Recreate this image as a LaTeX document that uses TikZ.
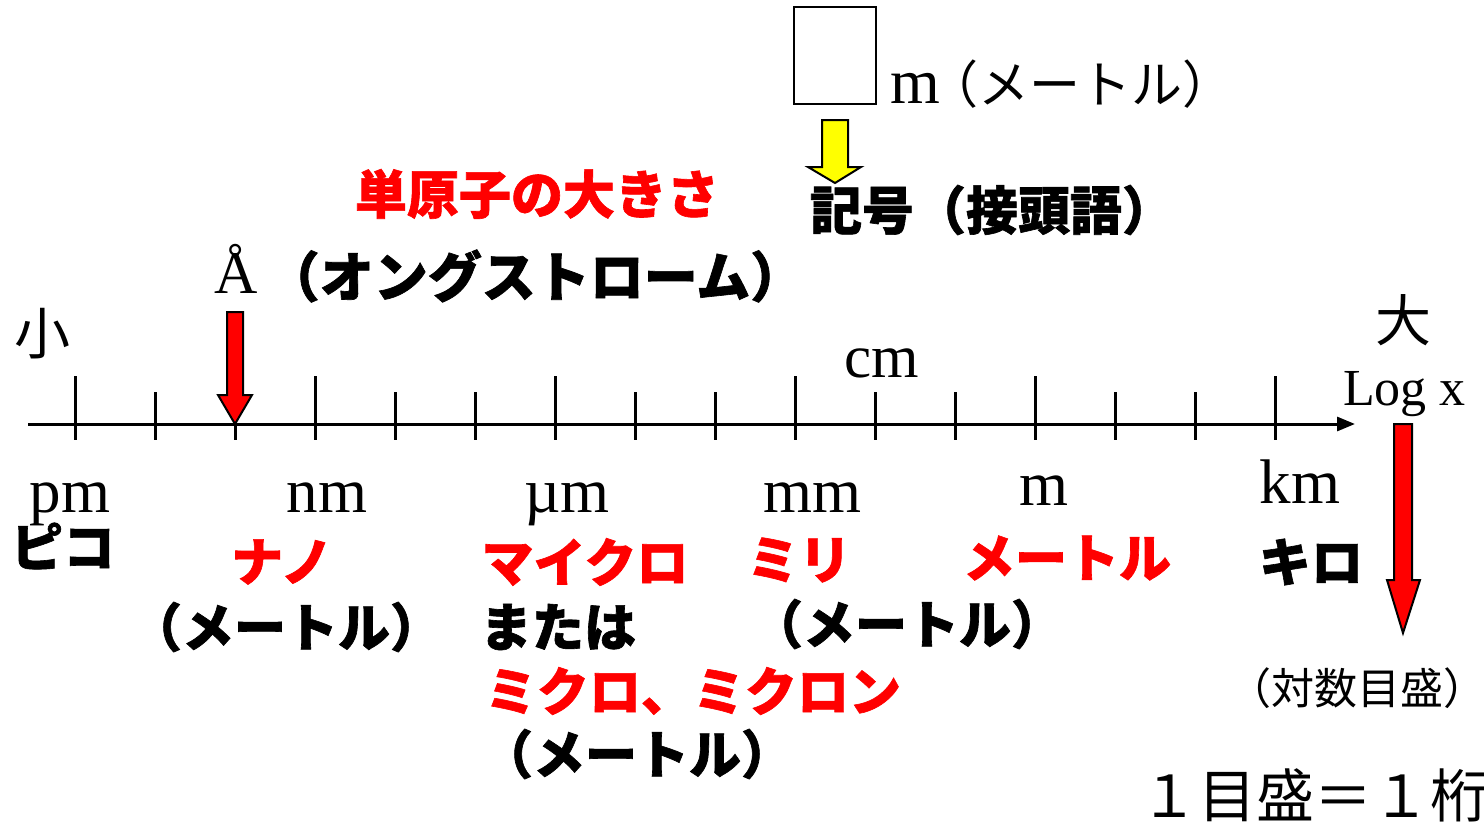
\documentclass[tikz,border=0pt]{standalone}
\usepackage{fontspec}
\usetikzlibrary{arrows.meta}
\setmainfont{Liberation Serif}
\newfontfamily\jp{Noto Sans CJK JP}
\newfontfamily\jpk{Noto Sans CJK JP}[BoldFeatures={FakeBold=1.2}]
\definecolor{pred}{RGB}{255,0,0}
\definecolor{pyel}{RGB}{255,255,0}
\tikzset{
  lat/.style={inner sep=0pt, font=\fontsize{63}{70}\selectfont},
  jpr/.style={inner sep=0pt, font=\jp\fontsize{#1}{#1}\selectfont},
  jpb/.style={inner sep=0pt, font=\jpk\bfseries\fontsize{52}{56}\selectfont},
  redlab/.style={jpb, text=pred},
  blklab/.style={jpb, text=black},
  axisline/.style={line width=3pt},
  tickmark/.style={line width=3pt},
  fatarrow/.style={draw=black, line width=2pt, line join=miter},
}
\begin{document}
\begin{tikzpicture}[x=1pt,y=-1pt]
\useasboundingbox (0,0) rectangle (1484,825);
% axis
\coordinate (axl) at (28,424);
\coordinate (axr) at (1355,424);
\draw[axisline,-{Triangle[length=18pt,width=14pt]}] (axl) -- (axr);
% ticks
\foreach \x in {75,315,555,795,1035,1275}{\draw[tickmark] (\x,376) -- (\x,440);}
\foreach \x in {155,235,395,475,635,715,875,955,1115,1195}{\draw[tickmark] (\x,392) -- (\x,440);}
% ends
\node[jpr=56] (small) at (43,334) {小};
\node[jpr=56] (big) at (1403,320) {大};
\node[lat, font=\fontsize{52}{60}\selectfont, anchor=base west] (logx) at (1343,405) {Log x};
\node[lat, font=\fontsize{61}{70}\selectfont, anchor=base] (cm) at (882,377) {cm};
% unit labels
\node[lat, anchor=base] (pm) at (70,512) {pm};
\node[lat, anchor=base] (nm) at (327,512) {nm};
\node[lat, anchor=base] (um) at (567,512) {µm};
\node[lat, anchor=base] (mm) at (812,512) {mm};
\node[lat, anchor=base] (m) at (1044,505) {m};
\node[lat, anchor=base] (km) at (1300,503) {km};
% prefix names
\node[blklab] (pico) at (63,546) {ピコ};
\node[redlab] (nano) at (282,562) {ナノ};
\node[blklab] (nanom) at (286,627) {（メートル）};
\node[redlab] (micro) at (585,562) {マイクロ};
\node[blklab] (mataha) at (558,627) {または};
\node[redlab] (mikuro) at (693,691) {ミクロ、ミクロン};
\node[blklab] (microm) at (637,754) {（メートル）};
\node[redlab] (milli) at (799,560) {ミリ};
\node[blklab] (millim) at (907,624) {（メートル）};
\node[redlab] (meter) at (1067,558) {メートル};
\node[blklab] (kilo) at (1311,562) {キロ};
% angstrom
\node[lat, font=\fontsize{60}{70}\selectfont, anchor=base] (ang) at (236,293) {Å};
\node[blklab, font=\jpk\bfseries\fontsize{54}{56}\selectfont] (angname) at (535,276) {（オングストローム）};
\node[redlab] (atom) at (537,194) {単原子の大きさ};
\draw[fatarrow, fill=pred] (227,312) -- (243,312) -- (243,395) -- (252,395) -- (235,424) -- (218,395) -- (227,395) -- cycle;
% top box
\node[draw=black, line width=2pt, minimum width=82pt, minimum height=97pt, inner sep=0pt] (box) at (835,55.5) {};
\node[lat, font=\fontsize{64}{70}\selectfont, anchor=base west] (mlab) at (890,103) {m\kern-12pt{\jp\fontsize{51}{51}\selectfont（メートル）}};
\draw[fatarrow, fill=pyel] (822,120) -- (848,120) -- (848,167) -- (861,167) -- (835,183) -- (808,167) -- (822,167) -- cycle;
\node[blklab] (kigo) at (992,210) {記号（接頭語）};
% right arrow
\draw[fatarrow, fill=pred] (1394,424) -- (1412,424) -- (1412,580) -- (1420,580) -- (1403,633) -- (1387,580) -- (1394,580) -- cycle;
\node[jpr=43] (taisu) at (1357,688) {（対数目盛）};
\node[jpr=58, anchor=west] (scale) at (1140,795) {１目盛＝１桁};
\end{tikzpicture}
\end{document}
